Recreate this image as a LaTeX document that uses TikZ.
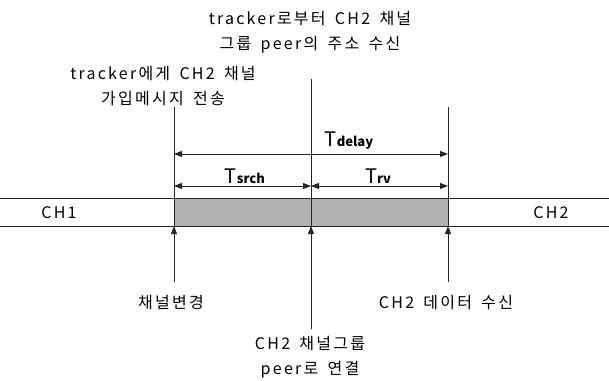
\documentclass[tikz,border=0pt]{standalone}
\usepackage{fontspec}
\setmainfont{Noto Sans CJK KR}
\newfontfamily\kfont[LetterSpace=14,WordSpace=1.6]{Noto Sans CJK KR}
\usetikzlibrary{arrows.meta}
\begin{document}
\begin{tikzpicture}[x=1pt,y=-1pt,
  lbl/.style={font=\kfont\fontsize{16}{25}\selectfont, align=center, inner sep=0pt},
  tlbl/.style={inner sep=0pt},
  ln/.style={line width=0.9pt, black!85},
  dim/.style={line width=0.9pt, black!85, {Triangle[length=8pt,width=6pt]}-{Triangle[length=8pt,width=6pt]}},
  up/.style={line width=0.9pt, black!85, -{Triangle[length=8pt,width=6pt]}}]
\useasboundingbox (0,0) rectangle (609,380);
% channel band
\fill[black!30] (174,198) rectangle (448,226);
\coordinate (L0) at (0,198); \coordinate (R0) at (609,198);
\coordinate (L1) at (0,226); \coordinate (R1) at (609,226);
\draw[ln] (L0) -- (R0);
\draw[ln] (L1) -- (R1);
% vertical lines
\coordinate (a1) at (174,107); \coordinate (a2) at (174,226); \coordinate (a3) at (174,282);
\coordinate (b1) at (311,79);  \coordinate (b2) at (311,226); \coordinate (b3) at (311,329);
\coordinate (c1) at (448,107); \coordinate (c2) at (448,226); \coordinate (c3) at (448,282);
\draw[ln] (a1) -- (a2);
\draw[ln] (b1) -- (b2);
\draw[ln] (c1) -- (c2);
\draw[up] (a3) -- (a2);
\draw[up] (b3) -- (b2);
\draw[up] (c3) -- (c2);
% dimension arrows
\coordinate (d1) at (174,154); \coordinate (d2) at (448,154);
\coordinate (s1) at (174,186); \coordinate (s2) at (311,186); \coordinate (s3) at (448,186);
\draw[dim] (d1) -- (d2);
\draw[dim] (s1) -- (s2);
\draw[dim] (s2) -- (s3);
% labels
\node[tlbl, anchor=base] (td) at (349,146) {{\fontsize{20}{20}\selectfont T}{\fontsize{13}{13}\selectfont\bfseries delay}};
\node[tlbl, anchor=base] (ts) at (245,183) {{\fontsize{20}{20}\selectfont T}{\fontsize{13}{13}\selectfont\bfseries srch}};
\node[tlbl, anchor=base] (tr) at (378,183) {{\fontsize{20}{20}\selectfont T}{\fontsize{13}{13}\selectfont\bfseries rv}};
\node[lbl] (top) at (310,32) {tracker로부터 CH2 채널\\그룹 peer의 주소 수신};
\node[lbl] (join) at (163,86) {tracker에게 CH2 채널\\가입메시지 전송};
\node[lbl] (ch1) at (59,213) {CH1};
\node[lbl] (ch2) at (551,213) {CH2};
\node[lbl] (chg) at (171,303) {채널변경};
\node[lbl] (rcv) at (446,303) {CH2 데이터 수신};
\node[lbl] (con) at (310,357) {CH2 채널그룹\\peer로 연결};
\end{tikzpicture}
\end{document}
